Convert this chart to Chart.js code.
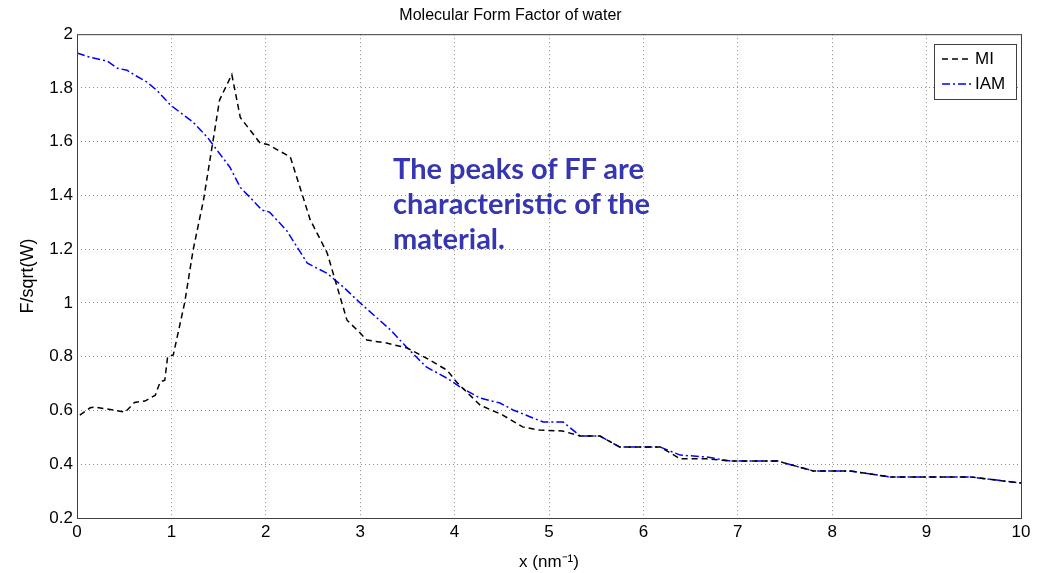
<!DOCTYPE html>
<html>
<head>
<meta charset="utf-8">
<script src="https://cdn.jsdelivr.net/npm/chart.js@4/dist/chart.umd.min.js"></script>
<style>
  body { margin: 0; background: #fff; }
  #wrap { position: relative; width: 1042px; height: 573px; }
  #note {
    position: absolute; left: 393px; top: 150px;
    font-family: Lato, "Open Sans", sans-serif; font-weight: bold;
    font-size: 29px; line-height: 35px; color: #3636b0;
  }
</style>
</head>
<body>
<div id="wrap">
  <canvas id="ffChart" width="1042" height="573"></canvas>
  <div id="note">The peaks of FF are<br>characteristic of the<br>material.</div>
</div>
<script>
// data
const miX = [0.03, 0.14, 0.19, 0.51, 0.61, 0.72, 0.83, 0.88, 0.93, 0.96, 1.02, 1.14, 1.23, 1.34, 1.43, 1.51, 1.64,
    1.73, 1.94, 2.02, 2.26, 2.47, 2.65, 2.86, 3.0, 3.07, 3.28, 3.5, 3.7, 3.92, 4.02, 4.27, 4.51, 4.72, 4.9,
    5.14, 5.33, 5.54, 5.75, 6.18, 6.39, 6.67, 6.92, 7.42, 7.8, 8.19, 8.61, 9.46, 10.0];
const miY = [0.583, 0.61, 0.613, 0.594, 0.63, 0.635, 0.657, 0.706, 0.713, 0.80, 0.807, 1.0, 1.197, 1.383, 1.58, 1.755, 1.85,
    1.69, 1.595, 1.59, 1.543, 1.31, 1.186, 0.936, 0.888, 0.862, 0.851, 0.832, 0.795, 0.75, 0.706, 0.62, 0.583, 0.539, 0.527,
    0.524, 0.505, 0.505, 0.464, 0.464, 0.42, 0.42, 0.412, 0.412, 0.375, 0.375, 0.353, 0.353, 0.33];

const iamX = [0.0, 0.14, 0.32, 0.43, 0.53, 0.61, 0.74, 0.85, 0.99, 1.23, 1.38, 1.48, 1.62, 1.73, 1.83, 1.96, 2.04,
    2.22, 2.44, 2.65, 2.82, 3.0, 3.32, 3.49, 3.7, 3.92, 4.06, 4.27, 4.48, 4.62, 4.83, 4.94, 5.15, 5.33, 5.54,
    5.75, 6.18, 6.39, 6.67, 6.92, 7.42, 7.8, 8.19, 8.61, 9.46, 10.0];
const iamY = [1.93, 1.914, 1.90, 1.873, 1.866, 1.848, 1.822, 1.79, 1.736, 1.673, 1.617, 1.57, 1.505, 1.43, 1.394, 1.345, 1.338,
    1.27, 1.148, 1.11, 1.06, 1.0, 0.9, 0.836, 0.762, 0.72, 0.687, 0.646, 0.628, 0.602, 0.572, 0.557, 0.557, 0.505, 0.505,
    0.464, 0.464, 0.434, 0.427, 0.412, 0.412, 0.375, 0.375, 0.353, 0.353, 0.33];

const seriesNames = ['MI', 'IAM'];
const yTicks = [0.2, 0.4, 0.6, 0.8, 1, 1.2, 1.4, 1.6, 1.8, 2];

const toPts = (xs, ys) => xs.map((x, i) => ({ x, y: ys[i] }));

// axes box + legend, matlab style
const boxPlugin = {
    id: 'boxPlugin',
    afterDraw(chart) {
        const { ctx, chartArea: a } = chart;
        ctx.save();
        ctx.strokeStyle = '#404040';
        ctx.lineWidth = 1;
        ctx.setLineDash([]);
        ctx.strokeRect(a.left + 0.5, a.top + 0.5, a.right - a.left, a.bottom - a.top);

        // legend
        const lx = 934, ly = 44, lw = 82, lh = 55;
        ctx.fillStyle = '#fff';
        ctx.fillRect(lx, ly, lw, lh);
        ctx.strokeStyle = '#404040';
        ctx.strokeRect(lx + 0.5, ly + 0.5, lw, lh);
        ctx.font = '17px "Liberation Sans", Arial, sans-serif';
        ctx.textBaseline = 'middle';
        chart.data.datasets.forEach((ds, i) => {
            const y = ly + 15 + i * 25;
            ctx.strokeStyle = ds.borderColor;
            ctx.lineWidth = 1.5;
            ctx.setLineDash(ds.borderDash);
            ctx.beginPath();
            ctx.moveTo(lx + 8, y);
            ctx.lineTo(lx + 38, y);
            ctx.stroke();
            ctx.setLineDash([]);
            ctx.fillStyle = '#000';
            ctx.fillText(ds.label, lx + 41, y);
        });
        ctx.restore();
    }
};

const gridStyle = {
    color: '#8c8c8c',
    lineWidth: 1,
    drawTicks: false
};

new Chart(document.getElementById('ffChart'), {
    type: 'line',
    data: {
        datasets: [
            { label: seriesNames[0], data: toPts(miX, miY), borderColor: '#000000', borderWidth: 1.5,
              borderDash: [6, 4], pointRadius: 0, fill: false, tension: 0 },
            { label: seriesNames[1], data: toPts(iamX, iamY), borderColor: '#0000ff', borderWidth: 1.5,
              borderDash: [8, 3, 2, 3], pointRadius: 0, fill: false, tension: 0 }
        ]
    },
    options: {
        responsive: false,
        animation: false,
        layout: { padding: { left: 0, right: 21, top: 0, bottom: 0 } },
        plugins: {
            legend: { display: false },
            tooltip: { enabled: false },
            title: {
                display: true,
                text: 'Molecular Form Factor of water',
                color: '#000',
                font: { family: '"Liberation Sans", Arial, sans-serif', size: 16, weight: 'normal' },
                padding: { top: 6, bottom: 9 }
            }
        },
        scales: {
            x: {
                type: 'linear',
                min: 0, max: 10,
                ticks: { stepSize: 1, color: '#000', padding: 4,
                         font: { family: '"Liberation Sans", Arial, sans-serif', size: 17 } },
                grid: gridStyle,
                border: { display: false, dash: [1, 3] },
                title: { display: true, text: 'x (nm\u207B\u00B9)', color: '#000', padding: { top: 2, bottom: 0 },
                         font: { family: '"Liberation Sans", Arial, sans-serif', size: 17 } },
                afterFit: s => { s.height = 55; }
            },
            y: {
                min: 0.2, max: 2,
                afterBuildTicks: s => { s.ticks = yTicks.map(v => ({ value: v })); },
                ticks: { color: '#000', padding: 4, callback: v => String(+v.toFixed(1)),
                         font: { family: '"Liberation Sans", Arial, sans-serif', size: 17 } },
                grid: gridStyle,
                border: { display: false, dash: [1, 3] },
                title: { display: true, text: 'F/sqrt(W)', color: '#000', padding: { top: 17, bottom: 0 },
                         font: { family: '"Liberation Sans", Arial, sans-serif', size: 18 } },
                afterFit: s => { s.width = 77; }
            }
        }
    },
    plugins: [boxPlugin]
});
</script>
</body>
</html>
